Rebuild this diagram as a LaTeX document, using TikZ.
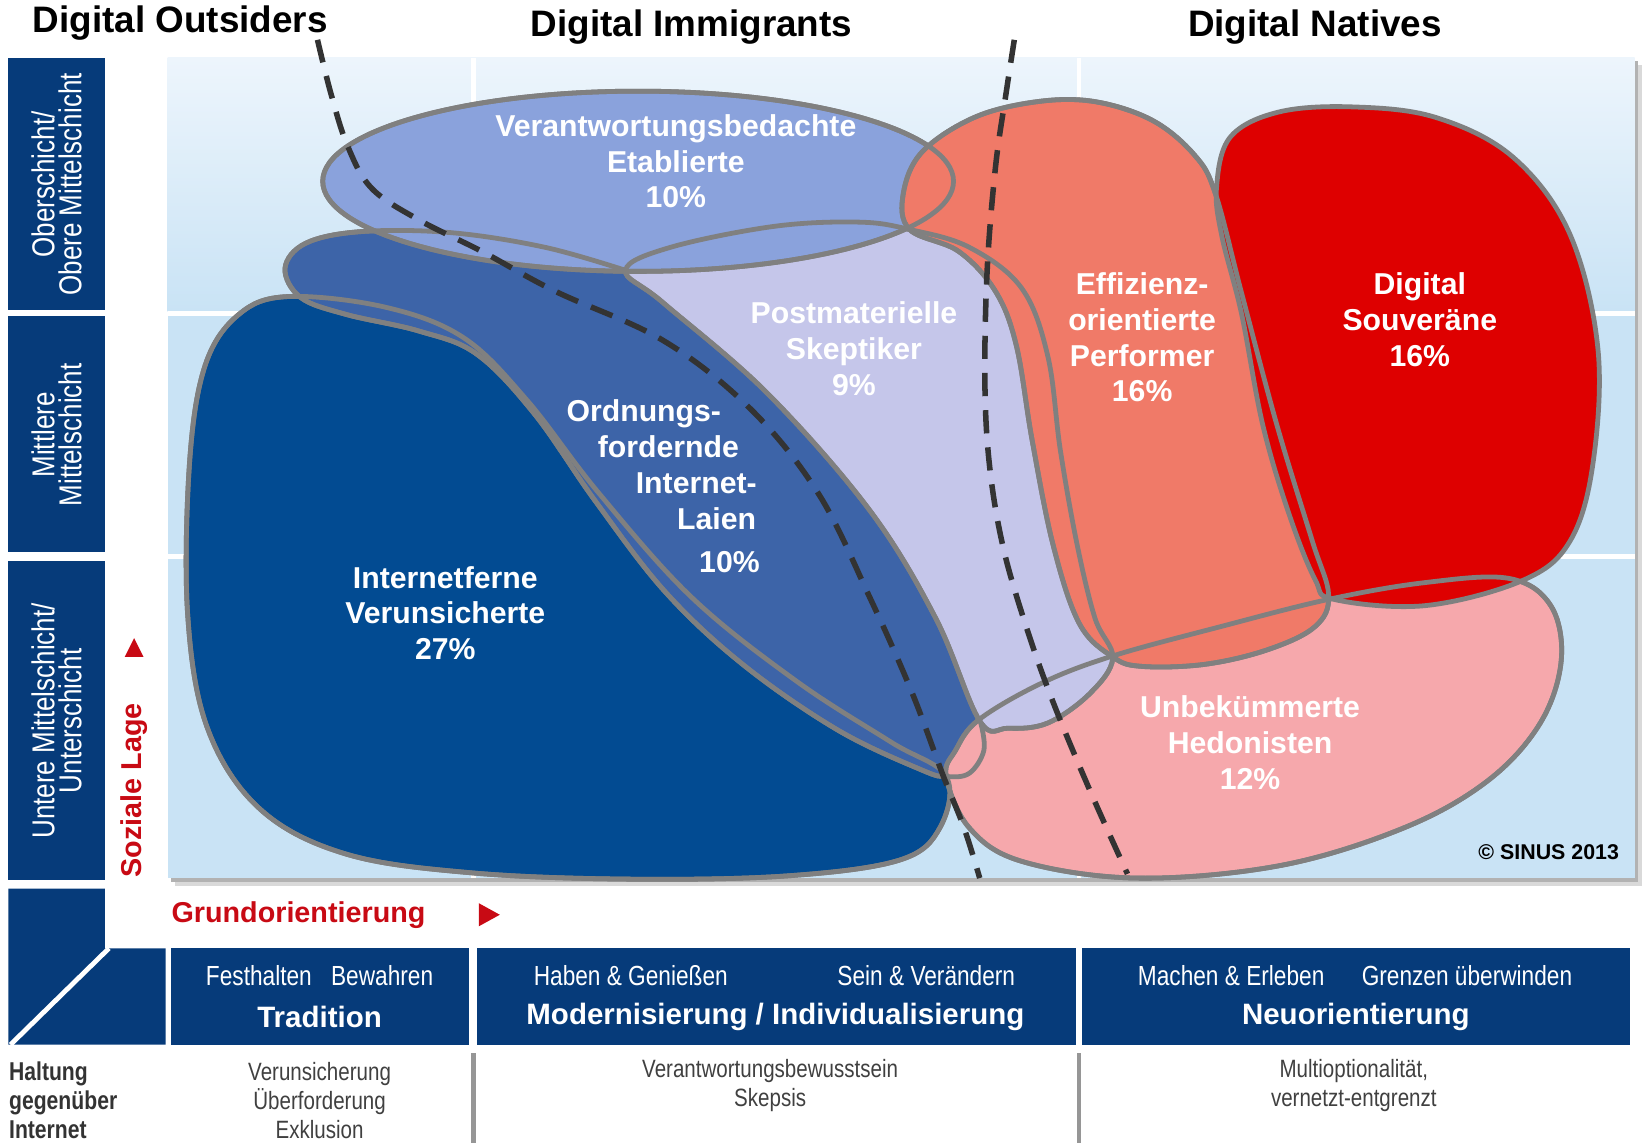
\documentclass[tikz,border=0pt]{standalone}
\usepackage{fontspec}
\setmainfont{Liberation Sans}
\newfontfamily\narrowfont[FakeStretch=0.82]{Liberation Sans}
\usetikzlibrary{positioning}

\definecolor{barblue}{RGB}{6,59,122}
\definecolor{cellblue}{RGB}{201,227,245}
\definecolor{celltop}{RGB}{237,245,252}
\definecolor{outl}{RGB}{128,128,128}
\definecolor{ivblue}{RGB}{2,75,146}
\definecolor{oiblue}{RGB}{61,100,168}
\definecolor{veblue}{RGB}{138,162,220}
\definecolor{pslav}{RGB}{197,198,234}
\definecolor{epsalmon}{RGB}{240,122,104}
\definecolor{dsred}{RGB}{222,0,0}
\definecolor{hepink}{RGB}{246,168,172}
\definecolor{axisred}{RGB}{200,10,20}
\definecolor{dashgray}{RGB}{51,51,51}
\definecolor{txtgray}{RGB}{64,64,64}
\definecolor{sepgray}{RGB}{150,150,150}

\begin{document}
\begin{tikzpicture}[x=0.01cm, y=-0.01cm,
  milieu/.style={draw=outl, line width=1.3pt, line join=round},
  boundary/.style={draw=dashgray, line width=1.5pt, dash pattern=on 6.3pt off 3.8pt},
  mlabel/.style={text=white, align=center, inner sep=0pt, font=\fontsize{8.2}{9.7}\selectfont\bfseries},
  grouptitle/.style={inner sep=0pt, font=\fontsize{10}{12}\selectfont\bfseries},
  barlabel/.style={text=white, rotate=90, align=center, inner sep=0pt, font={\narrowfont\fontsize{8.6}{7.3}\selectfont\lineskiplimit=-10pt}},
  colsub/.style={text=white, inner sep=0pt, font=\narrowfont\fontsize{7.5}{9}\selectfont},
  colname/.style={text=white, inner sep=0pt, font=\fontsize{8}{10}\selectfont\bfseries},
  attitude/.style={text=txtgray, align=center, inner sep=0pt, font=\narrowfont\fontsize{6.8}{7.9}\selectfont},
  axislabel/.style={text=axisred, inner sep=0pt, font=\fontsize{7.8}{9}\selectfont\bfseries}
]
\useasboundingbox (0,0) rectangle (1568,1091);

% group titles
\node[grouptitle] (outsiders) at (172,22) {Digital Outsiders};
\node[grouptitle] (immigrants) at (660,26) {Digital Immigrants};
\node[grouptitle] (natives) at (1255,26) {Digital Natives};

% social class bars
\fill[barblue] (8,55) rectangle (100,296);
\fill[barblue] (8,302) rectangle (100,527);
\fill[barblue] (8,535) rectangle (100,840);
\fill[barblue] (8,848) -- (100,848) -- (100,905) -- (158,905) -- (158,997) -- (8,997) -- cycle;
\draw[white, line width=1.3pt] (104,905) -- (10,997);
\node[barlabel] (upper) at (54,176) {Oberschicht/\\Obere Mittelschicht};
\node[barlabel] (middle) at (54,415) {Mittlere\\Mittelschicht};
\node[barlabel] (lower) at (54,688) {Untere Mittelschicht/\\Unterschicht};

% plot area
\fill[black!15] (167,62) rectangle (1567,846);
\fill[black!30] (163,58) rectangle (1563,842);
\fill[cellblue] (160,55) rectangle (1560,838);
\shade[top color=celltop, bottom color=cellblue] (160,55) rectangle (1560,297);
\draw[white, line width=1.2pt] (160,299) -- (1560,299) (160,531) -- (1560,531)
  (452,55) -- (452,838) (1030,55) -- (1030,838);

% milieus
\filldraw[milieu, fill=ivblue, save path=\pathIV] plot[smooth cycle, tension=.6] coordinates {(275,283) (367,293) (442,322) (503,382) (571,470) (660,570) (760,650) (850,708) (903,741) (897,790) (858,821) (750,836) (600,839) (450,833) (330,815) (248,772) (198,695) (179,585) (181,440) (196,348) (228,300)};
\filldraw[milieu, fill=oiblue] plot[smooth cycle, tension=.6] coordinates {(597,258) (520,236) (430,222) (345,221) (292,232) (272,256) (287,284) (330,300) (400,316) (455,338) (510,395) (568,478) (635,565) (710,635) (800,697) (880,735) (903,741) (925,738) (939,716) (936,690) (912,612) (862,512) (782,402) (692,318) (632,272)};
\filldraw[milieu, fill=hepink, save path=\pathHE] plot[smooth cycle, tension=.6] coordinates {(903,741) (912,716) (934,687) (994,652) (1062,626) (1165,598) (1268,572) (1360,556) (1440,552) (1480,578) (1490,630) (1470,690) (1420,745) (1340,790) (1222,826) (1085,838) (975,822) (925,790)};
\filldraw[milieu, fill=pslav, save path=\pathPS] plot[smooth cycle, tension=.6] coordinates {(597,258) (640,236) (739,216) (820,212) (868,219) (925,236) (975,275) (1000,340) (1012,430) (1028,520) (1045,590) (1062,628) (1040,662) (1000,690) (962,695) (935,688) (893,590) (830,487) (732,375) (633,289)};
\filldraw[milieu, fill=veblue] (609,173) ellipse [x radius=301, y radius=86];
\filldraw[milieu, fill=epsalmon, save path=\pathEP] plot[smooth cycle, tension=.6] coordinates {(868,219) (862,185) (880,145) (930,112) (990,97) (1045,97) (1100,115) (1140,148) (1160,185) (1185,280) (1219,407) (1252,515) (1268,568) (1255,598) (1210,620) (1150,634) (1090,636) (1062,627) (1030,595) (1005,520) (985,420) (970,330) (950,278) (915,240)};
\filldraw[milieu, fill=dsred] plot[smooth cycle, tension=.6] coordinates {(1161,179) (1174,131) (1220,107) (1290,102) (1370,112) (1444,150) (1498,223) (1525,333) (1520,444) (1498,517) (1453,554) (1360,578) (1273,572) (1255,553) (1230,490) (1205,405) (1185,300) (1166,225)};

% outlines seen through the overlaps
\draw[milieu, use path=\pathIV];
\draw[milieu] plot[smooth, tension=.6] coordinates {(936,690) (939,716) (925,738) (903,741) (880,735) (800,697) (710,635) (635,565) (568,478) (510,395) (455,338) (400,316) (330,300) (287,284) (272,256) (292,232) (345,221) (430,222) (520,236) (597,258)};
\draw[milieu, use path=\pathHE];
\draw[milieu, use path=\pathPS];
\draw[milieu] (609,173) ellipse [x radius=301, y radius=86];
\draw[milieu, use path=\pathEP];

% group boundaries
\draw[boundary] plot[smooth, tension=.6] coordinates {(303,38) (316,90) (332,140) (355,180) (400,210) (460,240) (530,278) (633,325) (716,390) (781,471) (830,570) (870,660) (900,740) (920,790) (935,838)};
\draw[boundary] plot[smooth, tension=.6] coordinates {(968,38) (960,90) (950,160) (942,260) (940,370) (945,450) (958,525) (980,600) (1005,670) (1040,754) (1076,834)};

% milieu labels
\node[mlabel] (ve-lbl) at (645,154) {Verantwortungsbedachte\\Etablierte\\10\%};
\node[mlabel] (ps-lbl) at (815,333) {Postmaterielle\\Skeptiker\\9\%};
\node[mlabel, align=left, anchor=north west] (oi-lbl) at (540,381) {Ordnungs-\\\hspace*{8.5pt}fordernde\\\hspace*{18.8pt}Internet-\\\hspace*{30pt}Laien\\[2pt]\hspace*{36pt}10\%};
\node[mlabel] (iv-lbl) at (425,585) {Internetferne\\Verunsicherte\\27\%};
\node[mlabel] (ep-lbl) at (1090,322) {Effizienz-\\orientierte\\Performer\\16\%};
\node[mlabel] (ds-lbl) at (1355,305) {Digital\\Souveräne\\16\%};
\node[mlabel] (he-lbl) at (1193,709) {Unbekümmerte\\Hedonisten\\12\%};
\node[inner sep=0pt, font=\fontsize{5.8}{7}\selectfont\bfseries] (sinus) at (1478,813) {© SINUS 2013};

% axes
\node[axislabel, anchor=west] (grund) at (163,873) {Grundorientierung};
\fill[axisred] (457,862) -- (477,873) -- (457,884) -- cycle;
\node[axislabel, rotate=90, anchor=west] (soziale) at (128,838) {Soziale Lage};
\fill[axisred] (119,627) -- (128,609) -- (137,627) -- cycle;

% basic orientation headers
\fill[barblue] (163,905) rectangle (448,997);
\fill[barblue] (455,905) rectangle (1027,997);
\fill[barblue] (1033,905) rectangle (1556,997);
\node[colsub] (trad-sub) at (305,931) {Festhalten\hspace{0.7em}Bewahren};
\node[colname] (trad-name) at (305,971) {Tradition};
\node[colsub] (mod-sub1) at (602,931) {Haben \& Genießen};
\node[colsub] (mod-sub2) at (884,931) {Sein \& Verändern};
\node[colname] (mod-name) at (740,971) {Modernisierung / Individualisierung};
\node[colsub] (neu-sub1) at (1175,931) {Machen \& Erleben};
\node[colsub] (neu-sub2) at (1400,931) {Grenzen überwinden};
\node[colname] (neu-name) at (1294,971) {Neuorientierung};

% attitude towards the internet
\draw[sepgray, line width=1.2pt] (452,1005) -- (452,1091) (1030,1005) -- (1030,1091);
\node[attitude, text=black!80, align=left, anchor=west, font=\narrowfont\fontsize{7}{7.9}\selectfont\bfseries] (haltung) at (8,1050) {Haltung\\gegenüber\\Internet};
\node[attitude] (att-trad) at (305,1050) {Verunsicherung\\Überforderung\\Exklusion};
\node[attitude] (att-mod) at (735,1036) {Verantwortungsbewusstsein\\Skepsis};
\node[attitude] (att-neu) at (1292,1036) {Multioptionalität,\\vernetzt-entgrenzt};
\end{tikzpicture}
\end{document}
